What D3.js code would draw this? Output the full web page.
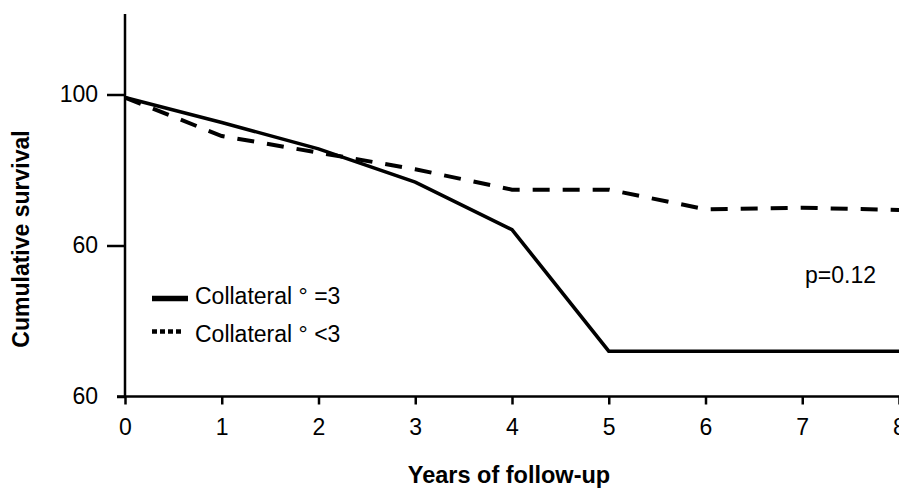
<!DOCTYPE html>
<html>
<head>
<meta charset="utf-8">
<script src="https://cdn.jsdelivr.net/npm/d3@7"></script>
<style>
  html, body { margin: 0; padding: 0; background: #fff; }
  svg { display: block; }
  text { font-family: "Liberation Sans", Arial, Helvetica, sans-serif; fill: #000; }
</style>
</head>
<body>
<svg id="chart" width="899" height="489"></svg>
<script>
// Follow-up years on the x axis
const years = [0, 1, 2, 3, 4, 5, 6, 7, 8];

// Cumulative survival (%) per group
const survivalEq3 = [99.6, 96.3, 92.8, 88.4, 82.1, 66.0, 66.0, 66.0, 66.0];
const survivalLt3 = [99.6, 94.5, 92.3, 90.1, 87.4, 87.4, 84.8, 85.0, 84.7];

// Axis ticks and their printed labels
const xTickValues = [0, 1, 2, 3, 4, 5, 6, 7, 8];
const yTickValues = [100, 80, 60];
const yTickLabels = ["100", "60", "60"];

const seriesNames = ["Collateral \u00B0 =3", "Collateral \u00B0 <3"];
const annotation = "p=0.12";

const svg = d3.select("#chart");
const W = 899, H = 489;
const marginLeft = 125, plotRight = 899, axisTop = 14;

const x = d3.scaleLinear().domain([0, 8]).range([marginLeft, plotRight]);
const y = d3.scaleLinear().domain([60, 100]).range([396.5, 94.5]);

const FS = 23;

// y axis
const yAxis = d3.axisLeft(y)
  .tickValues(yTickValues)
  .tickSize(18)
  .tickPadding(9)
  .tickFormat((d, i) => yTickLabels[i]);
const gy = svg.append("g").attr("transform", `translate(${marginLeft},0)`).call(yAxis);
gy.select(".domain").remove();
gy.selectAll(".tick line").attr("stroke", "#000").attr("stroke-width", 2.5)
  .attr("x2", d => d === 60 ? -8 : -18);
gy.selectAll(".tick text").attr("font-size", FS).attr("x", -27)
  .attr("font-family", "Liberation Sans, Arial, sans-serif");
gy.append("line")
  .attr("x1", 0).attr("x2", 0)
  .attr("y1", axisTop).attr("y2", y(60))
  .attr("stroke", "#000").attr("stroke-width", 2.5);

// x axis
const xAxis = d3.axisBottom(x)
  .tickValues(xTickValues)
  .tickSize(8)
  .tickPadding(14)
  .tickFormat(d3.format("d"));
const gx = svg.append("g").attr("transform", `translate(0,${y(60)})`).call(xAxis);
gx.select(".domain").remove();
gx.selectAll(".tick line").attr("stroke", "#000").attr("stroke-width", 2.5);
gx.selectAll(".tick text").attr("font-size", FS)
  .attr("font-family", "Liberation Sans, Arial, sans-serif");
gx.append("line")
  .attr("x1", marginLeft - 8).attr("x2", W)
  .attr("y1", 0).attr("y2", 0)
  .attr("stroke", "#000").attr("stroke-width", 2.5);

// survival curves
const line = d3.line().x((d, i) => x(years[i])).y(d => y(d));

svg.append("path")
  .datum(survivalLt3)
  .attr("d", line)
  .attr("fill", "none")
  .attr("stroke", "#000")
  .attr("stroke-width", 4)
  .attr("stroke-dasharray", "17,13");

svg.append("path")
  .datum(survivalEq3)
  .attr("d", line)
  .attr("fill", "none")
  .attr("stroke", "#000")
  .attr("stroke-width", 3.6)
  .attr("stroke-linejoin", "miter");

// legend
const legend = svg.append("g");
legend.append("line")
  .attr("x1", 152).attr("x2", 188).attr("y1", 298.5).attr("y2", 298.5)
  .attr("stroke", "#000").attr("stroke-width", 5.5);
legend.append("line")
  .attr("x1", 152).attr("x2", 184).attr("y1", 331.5).attr("y2", 331.5)
  .attr("stroke", "#000").attr("stroke-width", 4.5)
  .attr("stroke-dasharray", "5,3");
legend.append("text").attr("x", 195).attr("y", 304).attr("font-size", FS).text(seriesNames[0]);
legend.append("text").attr("x", 195).attr("y", 341.5).attr("font-size", FS).text(seriesNames[1]);

// p-value
svg.append("text").attr("x", 805).attr("y", 283).attr("font-size", FS).text(annotation);

// axis titles
svg.append("text")
  .attr("x", 509).attr("y", 483)
  .attr("text-anchor", "middle")
  .attr("font-size", 23.5).attr("font-weight", "bold")
  .text("Years of follow-up");

svg.append("text")
  .attr("transform", "translate(29,239) rotate(-90)")
  .attr("text-anchor", "middle")
  .attr("font-size", 23).attr("font-weight", "bold")
  .text("Cumulative survival");
</script>
</body>
</html>
